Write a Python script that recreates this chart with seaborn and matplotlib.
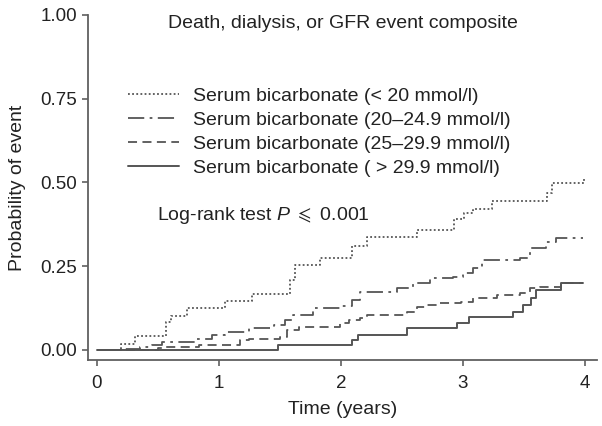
import matplotlib
matplotlib.use("Agg")
from matplotlib import pyplot as plt
import pandas as pd
import seaborn as sns

# step points (time in years, cumulative probability)
lt20_t = [0, 0.20, 0.31, 0.57, 0.61, 0.74, 1.05, 1.27, 1.58, 1.62, 1.83, 2.09, 2.21,
          2.62, 2.93, 3.01, 3.08, 3.24, 3.69, 3.73, 3.99, 4.00]
lt20_p = [0, 0.018, 0.042, 0.083, 0.10, 0.125, 0.146, 0.167, 0.21, 0.253, 0.274, 0.31,
          0.336, 0.357, 0.39, 0.41, 0.42, 0.446, 0.467, 0.497, 0.51, 0.51]

mid_t = [0, 0.20, 0.35, 0.45, 0.53, 0.80, 0.94, 1.05, 1.25, 1.45, 1.54, 1.61, 1.77,
         1.99, 2.09, 2.16, 2.46, 2.59, 2.73, 2.92, 3.00, 3.08, 3.16, 3.47, 3.55, 3.68,
         3.76, 3.98]
mid_p = [0, 0.004, 0.010, 0.015, 0.024, 0.033, 0.045, 0.054, 0.065, 0.074, 0.089,
         0.104, 0.125, 0.130, 0.149, 0.173, 0.185, 0.200, 0.214, 0.217, 0.229, 0.244,
         0.268, 0.274, 0.304, 0.321, 0.333, 0.333]

hi_t = [0, 0.50, 0.55, 0.84, 1.17, 1.25, 1.50, 1.56, 1.66, 1.99, 2.07, 2.16, 2.21,
        2.54, 2.62, 2.70, 2.81, 2.98, 3.08, 3.28, 3.47, 3.55, 3.63, 3.80, 3.98]
hi_p = [0, 0.005, 0.009, 0.015, 0.030, 0.033, 0.040, 0.060, 0.068, 0.080, 0.089,
        0.095, 0.104, 0.113, 0.128, 0.134, 0.140, 0.143, 0.155, 0.164, 0.170, 0.185,
        0.188, 0.200, 0.200]

gt30_t = [0, 1.48, 2.09, 2.14, 2.54, 2.95, 3.05, 3.41, 3.49, 3.56, 3.60, 3.80, 3.98]
gt30_p = [0, 0.015, 0.030, 0.045, 0.065, 0.080, 0.098, 0.113, 0.134, 0.155, 0.179,
          0.200, 0.200]

labels = [
    "Serum bicarbonate (< 20 mmol/l)",
    "Serum bicarbonate (20\u201324.9 mmol/l)",
    "Serum bicarbonate (25\u201329.9 mmol/l)",
    "Serum bicarbonate ( > 29.9 mmol/l)",
]
x_ticks = [0, 1, 2, 3, 4]
y_ticks = [0.0, 0.25, 0.5, 0.75, 1.0]

sns.set_style("ticks")
plt.rcParams["font.family"] = ["Liberation Sans", "DejaVu Sans"]
plt.rcParams["mathtext.fontset"] = "custom"
plt.rcParams["mathtext.rm"] = "Liberation Sans"
plt.rcParams["mathtext.it"] = "Liberation Sans:italic"

line_col = "#555555"
axis_col = "#606060"
text_col = "#222222"
fs = 14

fig = plt.figure(figsize=(6.02, 4.26), dpi=100)
ax = fig.add_axes([0.146, 0.155, 0.846, 0.81])

series = [
    (lt20_t, lt20_p, (0, (1, 1.3)), 1.3),
    (mid_t, mid_p, (0, (9, 3, 1.5, 3)), 1.3),
    (hi_t, hi_p, (0, (5, 3)), 1.3),
    (gt30_t, gt30_p, "-", 1.4),
]
for (t, p, ls, lw), lab in zip(series, labels):
    df = pd.DataFrame({"time": t, "prob": p})
    sns.lineplot(data=df, x="time", y="prob", ax=ax, estimator=None, sort=False,
                 drawstyle="steps-post", color=line_col, linestyle=ls,
                 linewidth=lw, label=lab)

ax.set_xlim(-0.074, 4.1)
ax.set_ylim(-0.03, 1.0)
ax.set_xticks(x_ticks)
ax.set_xticklabels([str(v) for v in x_ticks])
ax.set_yticks(y_ticks)
ax.set_yticklabels([f"{v:.2f}" for v in y_ticks])
for s in ["top", "right"]:
    ax.spines[s].set_visible(False)
for s in ["left", "bottom"]:
    ax.spines[s].set_color(axis_col)
    ax.spines[s].set_linewidth(1.3)
ax.tick_params(axis="both", colors=axis_col, labelcolor=text_col, labelsize=13.5,
               length=4.5, width=1.2, direction="out", pad=3.5)
ax.tick_params(axis="x", pad=6)
ax.set_xlabel("Time (years)", fontsize=fs, color=text_col, labelpad=7)
ax.set_ylabel("Probability of event", fontsize=fs, color=text_col, labelpad=10)

ax.text(0.5, 0.975, "Death, dialysis, or GFR event composite", transform=ax.transAxes,
        ha="center", va="center", fontsize=fs, color=text_col)
ax.text(0.136, 0.42, r"Log-rank test $\it{P}$ $\leqslant$ 0.001", transform=ax.transAxes,
        ha="left", va="center", fontsize=fs, color=text_col)

leg = ax.legend(loc="upper left", bbox_to_anchor=(0.079, 0.79), frameon=False,
                fontsize=fs, handlelength=2.6, handletextpad=0.72, labelspacing=0.33,
                borderpad=0, borderaxespad=0)
for txt in leg.get_texts():
    txt.set_color(text_col)

fig.savefig("out.png", dpi=100, facecolor="white")
